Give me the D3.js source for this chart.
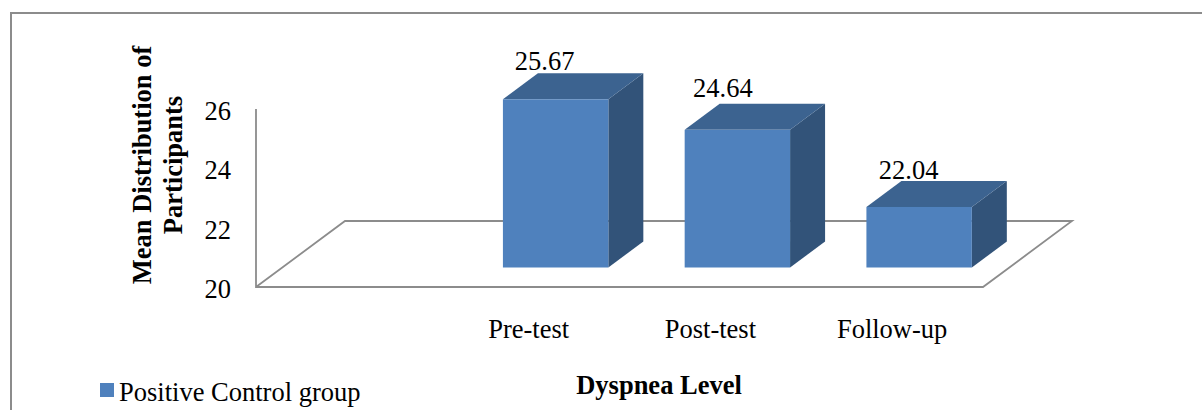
<!DOCTYPE html>
<html>
<head>
<meta charset="utf-8">
<script src="https://cdn.jsdelivr.net/npm/d3@7"></script>
<style>
  html, body { margin: 0; padding: 0; background: #fff; }
  text { font-family: "Liberation Serif", serif; fill: #000; }
</style>
</head>
<body>
<div id="chart"></div>
<script>
// first slot on the category axis is empty in the original chart
const categories = ['', 'Pre-test', 'Post-test', 'Follow-up']
const values = [null, 25.67, 24.64, 22.04]
const yTicks = [20, 22, 24, 26]
const seriesName = 'Positive Control group'
const yTitle = ['Mean Distribution of', 'Participants']
const xTitle = 'Dyspnea Level'

const width = 1202
const height = 410
const fontSize = 26.5
const lineColor = '#8c8c8c'
const front = '#4f81bd'
const top_ = '#3c6390'
const side = '#325379'

const floor = { l: 256, r: 983, y: 287, dx: 89, dy: -66 }
const depth = { dx: 35, dy: -26 }
const barShift = { dx: 27, dy: -19.5 }
// hand placed data labels, as in the original
const labelNudge = { 'Pre-test': [-11, -3], 'Post-test': [-14.5, -7], 'Follow-up': [-10.5, -2] }

const svg = d3.select('#chart').append('svg')
  .attr('width', width)
  .attr('height', height)
  .style('display', 'block')

// outer frame, runs off the bottom and right of the picture
svg.append('path')
  .attr('d', 'M11,' + height + 'V13H' + width)
  .attr('fill', 'none')
  .attr('stroke', lineColor)
  .attr('stroke-width', 2)

const x = d3.scaleBand().domain(categories).range([floor.l, floor.r]).paddingInner(0.42).paddingOuter(0.21)
const y = d3.scaleLinear().domain([20, 26]).range([floor.y, 109])

// floor and back wall edge
svg.append('path')
  .attr('d', d3.line()([
    [floor.l, y.range()[1]],
    [floor.l, floor.y],
    [floor.r, floor.y],
    [floor.r + floor.dx, floor.y + floor.dy],
    [floor.l + floor.dx, floor.y + floor.dy],
    [floor.l, floor.y]
  ]))
  .attr('fill', 'none')
  .attr('stroke', lineColor)
  .attr('stroke-width', 1.8)

// y axis
const yAxis = svg.append('g')
  .attr('transform', 'translate(' + floor.l + ',2)')
  .call(d3.axisLeft(y).tickValues(yTicks).tickFormat(d3.format('d')).tickSize(0).tickPadding(0))
yAxis.select('.domain').remove()
yAxis.selectAll('text').attr('x', -25).attr('font-size', fontSize).style('font-family', '"Liberation Serif", serif')

// x axis
const xAxis = svg.append('g')
  .attr('transform', 'translate(0,' + floor.y + ')')
  .call(d3.axisBottom(x).tickSize(0).tickPadding(0))
xAxis.select('.domain').remove()
xAxis.selectAll('text').attr('y', 32).attr('font-size', fontSize).style('font-family', '"Liberation Serif", serif')

// bars drawn as three faces
const data = categories.map((c, i) => ({ c: c, v: values[i] })).filter(d => d.v !== null)
const bars = svg.selectAll('.bar').data(data).enter()
  .append('g').attr('class', 'bar')
  .attr('transform', 'translate(' + barShift.dx + ',' + barShift.dy + ')')

bars.append('path')
  .attr('fill', side)
  .attr('d', d => {
    const xr = x(d.c) + x.bandwidth()
    return d3.line()([[xr, y(20)], [xr, y(d.v)], [xr + depth.dx, y(d.v) + depth.dy], [xr + depth.dx, y(20) + depth.dy]]) + 'Z'
  })

bars.append('path')
  .attr('fill', top_)
  .attr('d', d => {
    const xl = x(d.c)
    const xr = xl + x.bandwidth()
    return d3.line()([[xl, y(d.v)], [xr, y(d.v)], [xr + depth.dx, y(d.v) + depth.dy], [xl + depth.dx, y(d.v) + depth.dy]]) + 'Z'
  })

bars.append('rect')
  .attr('fill', front)
  .attr('x', d => x(d.c))
  .attr('y', d => y(d.v))
  .attr('width', x.bandwidth())
  .attr('height', d => y(20) - y(d.v))

// value labels
bars.append('text')
  .text(d => d.v.toFixed(2))
  .attr('x', d => x(d.c) + x.bandwidth() / 2 + labelNudge[d.c][0])
  .attr('y', d => y(d.v) + depth.dy + labelNudge[d.c][1])
  .attr('text-anchor', 'middle')
  .attr('font-size', fontSize)

// axis titles
const yT = svg.append('text')
  .attr('transform', 'translate(151,165) rotate(-90)')
  .attr('text-anchor', 'middle')
  .attr('font-size', fontSize)
  .attr('font-weight', 'bold')
yT.selectAll('tspan').data(yTitle).enter().append('tspan')
  .attr('x', 0)
  .attr('dy', (d, i) => i === 0 ? 0 : 31)
  .text(d => d)

svg.append('text')
  .text(xTitle)
  .attr('x', 659)
  .attr('y', 394)
  .attr('text-anchor', 'middle')
  .attr('font-size', fontSize)
  .attr('font-weight', 'bold')

// legend
svg.append('rect')
  .attr('x', 100).attr('y', 383)
  .attr('width', 14).attr('height', 14)
  .attr('fill', front)
svg.append('text')
  .text(seriesName)
  .attr('x', 119)
  .attr('y', 401)
  .attr('font-size', fontSize)
</script>
</body>
</html>
